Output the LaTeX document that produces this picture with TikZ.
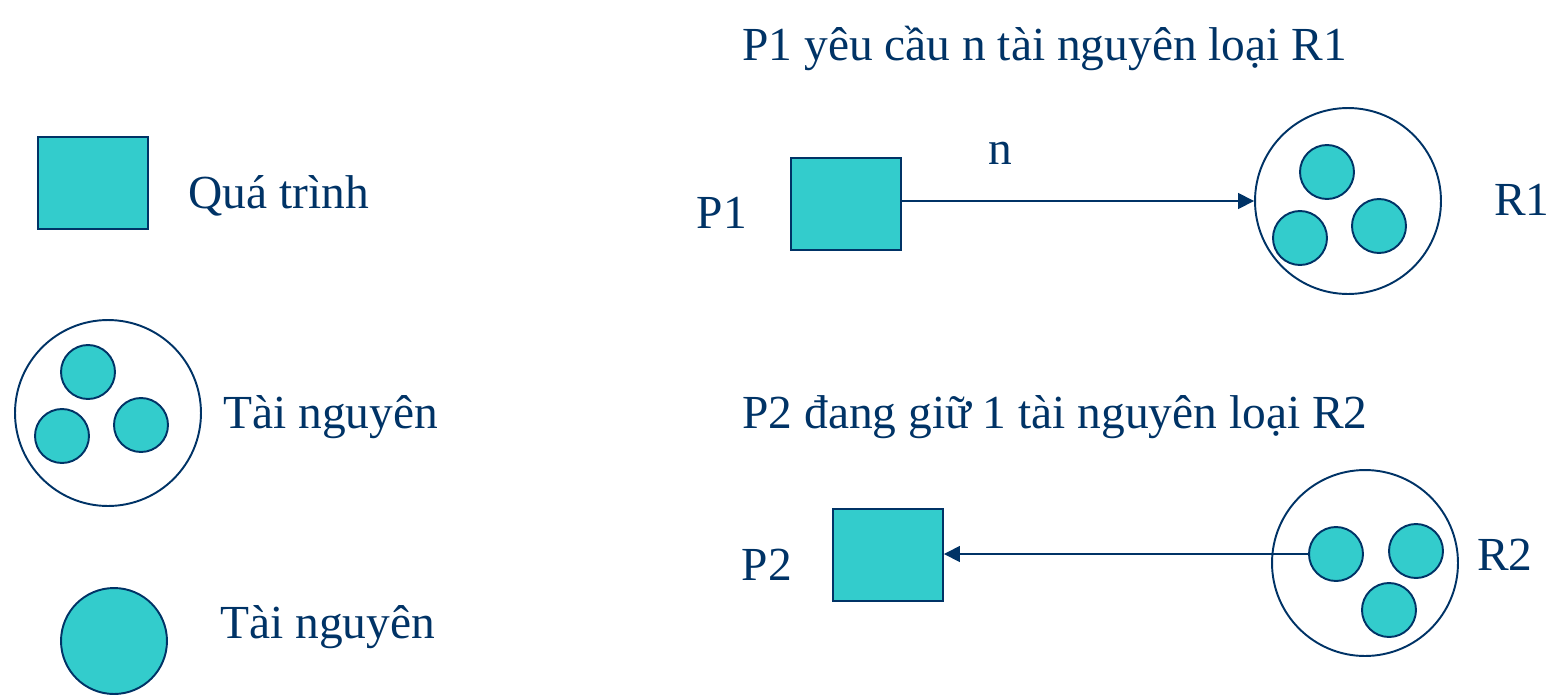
\documentclass[tikz,border=0pt]{standalone}
\usepackage{fontspec}
\setmainfont{Liberation Serif}
\usetikzlibrary{arrows.meta}
\definecolor{navy}{HTML}{003366}
\definecolor{teal}{HTML}{33CCCC}

\begin{document}
\begin{tikzpicture}[x=0.02cm,y=-0.02cm,
    proc/.style={draw=navy, fill=teal, line width=1.1pt, inner sep=0pt, minimum width=2.2cm, minimum height=1.85cm},
    pool/.style={draw=navy, circle, line width=1.1pt, inner sep=0pt, minimum size=3.72cm},
    token/.style={draw=navy, fill=teal, circle, line width=1.1pt, inner sep=0pt, minimum size=1.08cm},
    lbl/.style={text=navy, font=\fontsize{27}{32}\selectfont, inner sep=0pt},
    edge/.style={draw=navy, line width=0.9pt, -{Triangle[length=9pt,width=9pt]}}]
    \useasboundingbox (0,0) rectangle (1553,694);

    % legend
    \node[proc] (qbox) at (93,183) {};
    \node[lbl, anchor=base west] (qtxt) at (188,208) {Quá trình};
    \node[pool] (lpool) at (108,413) {};
    \node[token] (lt1) at (88,372) {};
    \node[token] (lt2) at (62,436) {};
    \node[token] (lt3) at (141,425) {};
    \node[lbl, anchor=base west] (ltxt) at (223,428) {Tài nguyên};
    \node[token, minimum size=2.12cm] (ltok) at (114,641) {};
    \node[lbl, anchor=base west] (ttxt) at (220,638) {Tài nguyên};

    % request
    \node[lbl, anchor=base west] (req) at (742,60) {P1 yêu cầu n tài nguyên loại R1};
    \node[proc] (p1) at (846,204) {};
    \node[lbl] (p1txt) at (722,213) {P1};
    \node[pool] (r1) at (1348,201) {};
    \node[token] (r1a) at (1327,172) {};
    \node[token] (r1b) at (1300,238) {};
    \node[token] (r1c) at (1379,226) {};
    \node[lbl] (r1txt) at (1522,200) {R1};
    \draw[edge] (p1.east |- r1.west) -- node[lbl, pos=0.28, above=20.5pt] (ntxt) {n} (r1.west);

    % hold
    \node[lbl, anchor=base west] (hold) at (742,428) {P2 đang giữ 1 tài nguyên loại R2};
    \node[proc] (p2) at (888,555) {};
    \node[lbl] (p2txt) at (767,565) {P2};
    \node[pool] (r2) at (1365,563) {};
    \node[token] (r2a) at (1336,554) {};
    \node[token] (r2b) at (1416,551) {};
    \node[token] (r2c) at (1389,610) {};
    \node[lbl] (r2txt) at (1505,555) {R2};
    \draw[edge] (r2a.west) -- (r2a.west -| p2.east);
\end{tikzpicture}
\end{document}
